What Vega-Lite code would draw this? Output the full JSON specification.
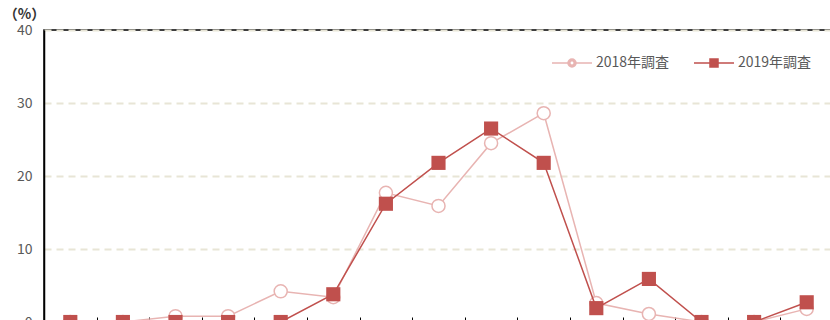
{
  "$schema": "https://vega.github.io/schema/vega-lite/v6.json",
  "autosize": {"type": "none"},
  "padding": {"left": 44, "top": 30, "right": 0, "bottom": 0},
  "width": 789,
  "height": 292,
  "background": "white",
  "config": {
    "font": "Noto Sans CJK JP",
    "view": {"stroke": "#000000", "strokeWidth": 1.5}
  },
  "data": {
    "values": [
      {"cat": "1", "series": "2018年調査", "value": 0},
      {"cat": "2", "series": "2018年調査", "value": 0},
      {"cat": "3", "series": "2018年調査", "value": 0.8},
      {"cat": "4", "series": "2018年調査", "value": 0.8},
      {"cat": "5", "series": "2018年調査", "value": 4.2},
      {"cat": "6", "series": "2018年調査", "value": 3.4},
      {"cat": "7", "series": "2018年調査", "value": 17.7},
      {"cat": "8", "series": "2018年調査", "value": 15.9},
      {"cat": "9", "series": "2018年調査", "value": 24.5},
      {"cat": "10", "series": "2018年調査", "value": 28.6},
      {"cat": "11", "series": "2018年調査", "value": 2.6},
      {"cat": "12", "series": "2018年調査", "value": 1.1},
      {"cat": "13", "series": "2018年調査", "value": 0},
      {"cat": "14", "series": "2018年調査", "value": 0},
      {"cat": "15", "series": "2018年調査", "value": 1.8},
      {"cat": "1", "series": "2019年調査", "value": 0},
      {"cat": "2", "series": "2019年調査", "value": 0},
      {"cat": "3", "series": "2019年調査", "value": 0},
      {"cat": "4", "series": "2019年調査", "value": 0},
      {"cat": "5", "series": "2019年調査", "value": 0},
      {"cat": "6", "series": "2019年調査", "value": 3.8},
      {"cat": "7", "series": "2019年調査", "value": 16.2},
      {"cat": "8", "series": "2019年調査", "value": 21.8},
      {"cat": "9", "series": "2019年調査", "value": 26.5},
      {"cat": "10", "series": "2019年調査", "value": 21.8},
      {"cat": "11", "series": "2019年調査", "value": 1.9},
      {"cat": "12", "series": "2019年調査", "value": 5.9},
      {"cat": "13", "series": "2019年調査", "value": 0},
      {"cat": "14", "series": "2019年調査", "value": 0},
      {"cat": "15", "series": "2019年調査", "value": 2.7}
    ]
  },
  "encoding": {
    "x": {
      "field": "cat", "type": "nominal", "sort": null,
      "scale": {"type": "band", "paddingInner": 0, "paddingOuter": 0},
      "axis": {"title": null, "domain": false, "tickBand": "extent", "tickSize": -5, "tickColor": "#000000", "tickWidth": 1, "labelAngle": 0, "labelFontSize": 14, "labelColor": "#595959"}
    },
    "y": {
      "field": "value", "type": "quantitative",
      "scale": {"domain": [0, 40], "nice": false},
      "axis": {
        "values": [0, 10, 20, 30, 40],
        "title": "（%）", "titleAngle": 0, "titleAlign": "center", "titleBaseline": "middle",
        "titleX": -20, "titleY": -16, "titleFontSize": 14, "titleFontWeight": "bold", "titleColor": "#333333",
        "domainColor": "#000000", "domainWidth": 1.5,
        "ticks": false, "labelPadding": 12, "labelFontSize": 14, "labelColor": "#595959",
        "gridColor": "#e8e5d6", "gridDash": [7, 5], "gridWidth": 2
      }
    },
    "color": {
      "field": "series", "type": "nominal",
      "scale": {"domain": ["2018年調査", "2019年調査"], "range": ["#e8b4b2", "#c0504d"]},
      "legend": {
        "title": null, "orient": "none", "direction": "horizontal",
        "legendX": 507, "legendY": 12,
        "symbolSize": 1600, "symbolStrokeWidth": 1.5,
        "labelFontSize": 14, "labelColor": "#595959", "labelOffset": 3,
        "columnPadding": 21,
        "encode": {
          "symbols": {
            "update": {
              "shape": {"signal": "datum.value === '2018年調査' ? 'M-1,0H-0.2M0.2,0H1M-0.2,0A0.2,0.2 0 1,0 0.2,0A0.2,0.2 0 1,0 -0.2,0ZM-0.11,0A0.11,0.11 0 1,1 0.11,0A0.11,0.11 0 1,1 -0.11,0Z' : 'M-1,0H-0.2M0.2,0H1M-0.2,-0.2H0.2V0.2H-0.2Z'"},
              "fill": {"signal": "datum.value === '2018年調査' ? '#ffffff' : '#c0504d'"},
              "opacity": {"value": 1}
            }
          }
        }
      }
    }
  },
  "layer": [
    {
      "transform": [{"filter": "datum.series === '2018年調査'"}],
      "mark": {"type": "line", "strokeWidth": 1.5}
    },
    {
      "transform": [{"filter": "datum.series === '2018年調査'"}],
      "mark": {"type": "point", "shape": "circle", "size": 170, "filled": false, "fill": "#ffffff", "strokeWidth": 1.5, "opacity": 1}
    },
    {
      "transform": [{"filter": "datum.series === '2019年調査'"}],
      "mark": {"type": "line", "strokeWidth": 1.5}
    },
    {
      "transform": [{"filter": "datum.series === '2019年調査'"}],
      "mark": {"type": "point", "shape": "square", "size": 200, "filled": true, "opacity": 1}
    }
  ]
}
